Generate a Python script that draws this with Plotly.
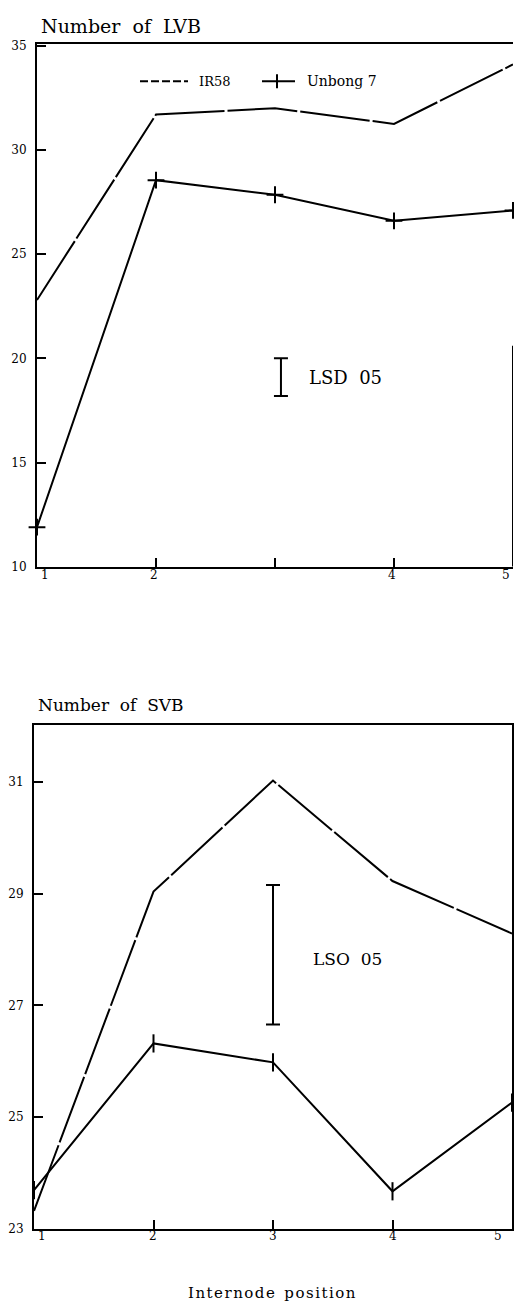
import plotly.graph_objects as go

# ---------------- data ----------------
internode = [1, 2, 3, 4, 5]

lvb_ir58 = [22.8, 31.7, 32.0, 31.25, 34.1]
lvb_unbong7 = [11.9, 28.55, 27.85, 26.6, 27.1]

svb_ir58 = [23.32, 29.04, 31.03, 29.23, 28.29]
svb_unbong7 = [23.69, 26.32, 25.98, 23.67, 25.26]

lsd_lvb = [18.2, 20.0]     # LSD .05 bar extent (top panel)
lsd_svb = [26.66, 29.16]   # LSD .05 bar extent (bottom panel)

lvb_yticks = [10, 15, 20, 25, 30, 35]
svb_yticks = [23, 25, 27, 29, 31]
lvb_xticklabels = ["1", "2", "", "4", "5"]
svb_xticklabels = ["1", "2", "3", "4", "5"]

series_names = ["IR58", "Unbong 7"]

FONT = "DejaVu Serif"
W, H = 514, 1309

fig = go.Figure()

ir58_line = dict(color="black", width=2, dash="70px,3px")
unb_line = dict(color="black", width=2)
unb_marker = dict(symbol="line-ns-open", size=13, color="black",
                  line=dict(color="black", width=2))

# top panel
fig.add_trace(go.Scatter(x=internode, y=lvb_ir58, mode="lines", name=series_names[0],
                         line=ir58_line, xaxis="x", yaxis="y", cliponaxis=False))
fig.add_trace(go.Scatter(x=internode, y=lvb_unbong7, mode="lines+markers", name=series_names[1],
                         line=unb_line, marker=dict(symbol="cross-thin-open", size=12,
                                                    line=dict(color="black", width=2)),
                         xaxis="x", yaxis="y", cliponaxis=False))
# bottom panel
fig.add_trace(go.Scatter(x=internode, y=svb_ir58, mode="lines",
                         line=ir58_line, xaxis="x2", yaxis="y2", cliponaxis=False))
fig.add_trace(go.Scatter(x=internode, y=svb_unbong7, mode="lines+markers",
                         line=unb_line, marker=unb_marker,
                         xaxis="x2", yaxis="y2", cliponaxis=False))

# LSD bars
def lsd_trace(xv, ext, xa, ya):
    mid = (ext[0] + ext[1]) / 2
    half = (ext[1] - ext[0]) / 2
    return go.Scatter(x=[xv], y=[mid], mode="markers", marker=dict(size=0.1, color="rgba(0,0,0,0)"),
                      error_y=dict(type="data", array=[half], symmetric=True,
                                   color="black", thickness=2, width=7),
                      hoverinfo="skip", xaxis=xa, yaxis=ya)

fig.add_trace(lsd_trace(3.05, lsd_lvb, "x", "y"))
fig.add_trace(lsd_trace(3.0, lsd_svb, "x2", "y2"))

axis_common = dict(showline=True, linecolor="black", linewidth=2, ticks="inside",
                   ticklen=9, tickwidth=2, tickcolor="black", showgrid=False,
                   zeroline=False, tickfont=dict(family=FONT, size=12, color="black"))

fig.update_layout(
    width=W, height=H,
    margin=dict(l=0, r=0, t=0, b=0),
    paper_bgcolor="white", plot_bgcolor="white",
    font=dict(family=FONT, color="black"),
    showlegend=False,
    xaxis=dict(domain=[37 / W, 513 / W], range=[1, 5], anchor="y", mirror=True,
               tickvals=internode, showticklabels=False, **axis_common),
    yaxis=dict(domain=[1 - 567 / H, 1 - 39 / H], range=[10, 35.1], anchor="x",
               tickvals=lvb_yticks, ticklabelstandoff=6, **axis_common),
    xaxis2=dict(domain=[34 / W, 512 / W], range=[1, 5], anchor="y2", mirror=True,
                tickvals=internode, showticklabels=False, **axis_common),
    yaxis2=dict(domain=[1 - 1235 / H, 1 - 727 / H], range=[23, 32.02], anchor="x2",
                mirror=True, tickvals=svb_yticks, ticklabelstandoff=6, **axis_common),
)

# partial right border of top panel
fig.add_shape(type="line", xref="x", yref="y", x0=5, x1=5, y0=10, y1=20.6,
              line=dict(color="black", width=2))

# manual legend (paper coords)
ly = 1 - 77 / H
fig.add_shape(type="line", xref="paper", yref="paper", x0=140 / W, x1=188 / W, y0=ly, y1=ly,
              line=dict(color="black", width=2, dash="8px,3px"))
fig.add_shape(type="line", xref="paper", yref="paper", x0=262 / W, x1=295 / W, y0=ly, y1=ly,
              line=dict(color="black", width=2))
fig.add_shape(type="line", xref="paper", yref="paper", x0=277 / W, x1=277 / W,
              y0=ly - 7 / H, y1=ly + 7 / H, line=dict(color="black", width=2))
fig.add_annotation(x=197 / W, y=ly, xref="paper", yref="paper", text=series_names[0],
                   showarrow=False, xanchor="left", yanchor="middle",
                   font=dict(family=FONT, size=13, color="black"))
fig.add_annotation(x=305 / W, y=ly, xref="paper", yref="paper", text=series_names[1],
                   showarrow=False, xanchor="left", yanchor="middle",
                   font=dict(family=FONT, size=14, color="black"))

# x tick labels as annotations
top_shift = [8, -2, 0, -2, -7]
bot_shift = [8, -1, 0, 0, -14]
for xv, t, s in zip(internode, lvb_xticklabels, top_shift):
    if t:
        fig.add_annotation(x=xv, y=0, xref="x", yref="y domain", text=t, showarrow=False,
                           xshift=s, yshift=-17, font=dict(family=FONT, size=12, color="black"))
for xv, t, s in zip(internode, svb_xticklabels, bot_shift):
    fig.add_annotation(x=xv, y=0, xref="x2", yref="y2 domain", text=t, showarrow=False,
                       xshift=s, yshift=-16, font=dict(family=FONT, size=12, color="black"))

# titles and labels
fig.add_annotation(x=39 / W, y=1 - 21 / H, xref="paper", yref="paper",
                   text="Number\u00a0 of\u00a0 LVB",
                   showarrow=False, xanchor="left", yanchor="middle",
                   font=dict(family=FONT, size=19, color="black"))
fig.add_annotation(x=36 / W, y=1 - 706 / H, xref="paper", yref="paper",
                   text="Number\u00a0 of\u00a0 SVB",
                   showarrow=False, xanchor="left", yanchor="middle",
                   font=dict(family=FONT, size=17, color="black"))
fig.add_annotation(x=272 / W, y=1 - 1300 / H, xref="paper", yref="paper",
                   text="I\u200an\u200at\u200ae\u200ar\u200an\u200ao\u200ad\u200ae\u00a0 p\u200ao\u200as\u200ai\u200at\u200ai\u200ao\u200an",
                   showarrow=False, xanchor="center", yanchor="middle",
                   font=dict(family=FONT, size=15, color="black"))
fig.add_annotation(x=3.05, y=sum(lsd_lvb) / 2, xref="x", yref="y", text="LSD\u00a0 05",
                   showarrow=False, xanchor="left", yanchor="middle", xshift=26,
                   font=dict(family=FONT, size=18, color="black"))
fig.add_annotation(x=3.0, y=27.83, xref="x2", yref="y2", text="LSO\u00a0 05",
                   showarrow=False, xanchor="left", yanchor="middle", xshift=38,
                   font=dict(family=FONT, size=17, color="black"))

fig.write_html("out.html")
